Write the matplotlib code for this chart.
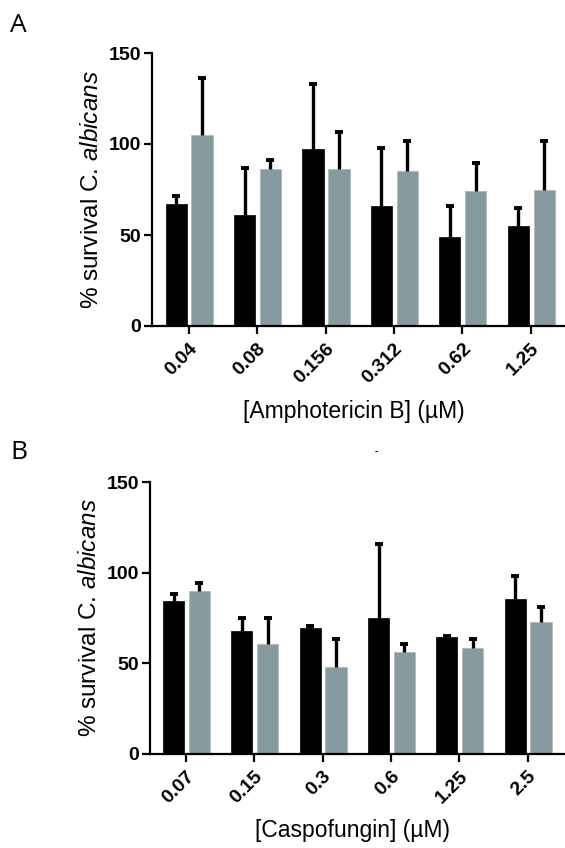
import numpy as np
import matplotlib
matplotlib.use("Agg")
import matplotlib.pyplot as plt

plt.rcParams['font.family'] = ['Liberation Sans', 'DejaVu Sans']
plt.rcParams['mathtext.fontset'] = 'custom'
plt.rcParams['mathtext.rm'] = 'Liberation Sans'
plt.rcParams['mathtext.it'] = 'Liberation Sans:italic'

# ---- Data: panel A (Amphotericin B) ----
amb_conc = ["0.04", "0.08", "0.156", "0.312", "0.62", "1.25"]
amb_black = [67, 61, 97, 66, 49, 55]
amb_black_err = [4.5, 26, 36, 32, 17, 10]
amb_grey = [105, 86.5, 86.5, 85, 74, 75]
amb_grey_err = [31, 4.5, 20, 16.5, 15.5, 26.5]

# ---- Data: panel B (Caspofungin) ----
cas_conc = ["0.07", "0.15", "0.3", "0.6", "1.25", "2.5"]
cas_black = [84.5, 68, 69.5, 75, 64.5, 85.5]
cas_black_err = [4, 7, 1, 41, 0.7, 12.5]
cas_grey = [90, 60.5, 48, 56, 58.5, 73]
cas_grey_err = [4.5, 14.5, 15.5, 4.5, 5, 8]

BLACK = '#000000'
GREY = '#879a9f'

W, H = 565, 848
fig = plt.figure(figsize=(W / 100, H / 100), dpi=100)


def panel(rect, labels, black, black_err, grey, grey_err, xlim, xlabel, xlabel_y):
    ax = fig.add_axes(rect)
    x = np.arange(len(labels))
    bw = 0.31
    xb = x - 0.183
    xg = x + 0.195
    ax.bar(xb, black, width=bw, color=BLACK, edgecolor=BLACK, linewidth=0.5, zorder=2)
    ax.bar(xg, grey, width=bw, color=GREY, edgecolor='#a9b6ba', linewidth=0.5, zorder=2)
    for xx, vals, errs in ((xb, black, black_err), (xg, grey, grey_err)):
        eb = ax.errorbar(xx, vals, yerr=[np.zeros(len(errs)), errs], fmt='none',
                         ecolor='black', elinewidth=2.4, capsize=3.2, capthick=2.8, zorder=3)
        caps = eb[1]
        if len(caps) >= 1:
            caps[0].set_visible(False)
    ax.set_xlim(*xlim)
    ax.set_ylim(0, 150)
    ax.set_yticks([0, 50, 100, 150])
    ax.set_xticks(x)
    ax.set_xticklabels(labels, rotation=45, ha='right', va='top', rotation_mode='anchor',
                       fontsize=14, fontweight='bold')
    for t in ax.get_yticklabels():
        t.set_fontsize(14)
        t.set_fontweight('bold')
    ax.spines['top'].set_visible(False)
    ax.spines['right'].set_visible(False)
    ax.spines['left'].set_linewidth(1.6)
    ax.spines['bottom'].set_linewidth(1.6)
    ax.tick_params(axis='both', direction='out', length=6, width=1.6, pad=2)
    ax.tick_params(axis='x', pad=4)
    ax.set_ylabel(r'% survival C. $\mathit{albicans}$', fontsize=17.5)
    ax.yaxis.set_label_coords(-0.118, 0.5)
    ax.set_xlabel(xlabel, fontsize=16.5)
    ax.xaxis.set_label_coords(0.488, xlabel_y)
    ax.xaxis.label.set_va('top')
    return ax


axA = panel([152 / W, 1 - 326 / H, (W - 152) / W, 273 / H], amb_conc,
            amb_black, amb_black_err, amb_grey, amb_grey_err,
            (-0.537, 5.50), '[Amphotericin B] (µM)', -0.272)
axB = panel([150 / W, 1 - 754 / H, (W - 150) / W, 272 / H], cas_conc,
            cas_black, cas_black_err, cas_grey, cas_grey_err,
            (-0.527, 5.546), '[Caspofungin] (µM)', -0.238)

fig.text(10 / W, 1 - 26 / H, 'A', fontsize=19, family=['Open Sans', 'DejaVu Sans'],
         ha='left', va='center')
fig.text(10 / W, 1 - 452 / H, 'B', fontsize=19, family=['Open Sans', 'DejaVu Sans'],
         ha='left', va='center')
fig.text(376 / W, 1 - 452 / H, '-', fontsize=7, fontweight='bold', ha='center', va='center')

fig.savefig('out.png', dpi=100)
